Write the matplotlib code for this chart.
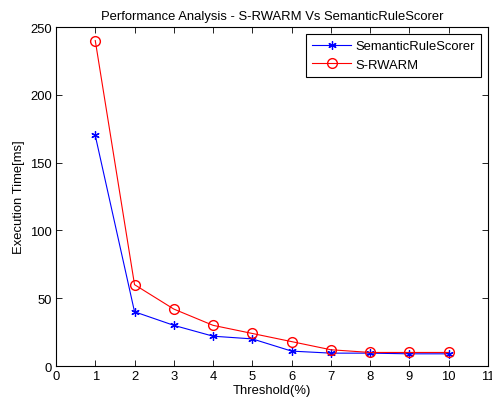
import matplotlib
matplotlib.use("Agg")
import matplotlib.pyplot as plt

thresholds = [1, 2, 3, 4, 5, 6, 7, 8, 9, 10]
semantic_rule_scorer = [170, 40, 30, 22, 20, 11, 9.5, 9.5, 9, 9]
s_rwarm = [240, 60, 42, 30, 24, 18, 12, 10, 10, 10]

plt.rcParams['font.family'] = ['Liberation Sans', 'DejaVu Sans']
plt.rcParams['font.size'] = 9.4

fig = plt.figure(figsize=(4.92, 4.06), dpi=100)
ax = fig.add_axes([0.1138, 0.096, 0.878, 0.835])
ax.plot(thresholds, semantic_rule_scorer, color='blue', marker=(6, 2, 0), markersize=6,
        markeredgewidth=0.9, linewidth=0.8, label='SemanticRuleScorer')
ax.plot(thresholds, s_rwarm, color='red', marker='o', markersize=7, markerfacecolor='none',
        linewidth=0.8, label='S-RWARM')
ax.set_xlim(0, 11)
ax.set_ylim(0, 250)
ax.set_xticks(range(0, 12))
ax.set_yticks(range(0, 251, 50))
ax.tick_params(direction='in', top=True, right=True, length=4, width=0.6, pad=3)
for s in ax.spines.values():
    s.set_linewidth(0.8)
ax.set_title('Performance Analysis - S-RWARM Vs SemanticRuleScorer', fontsize=9.4, pad=6)
ax.set_xlabel('Threshold(%)', labelpad=1)
ax.set_ylabel('Execution Time[ms]', labelpad=4)
leg = ax.legend(loc='upper right', fancybox=False, edgecolor='black', framealpha=1,
                fontsize=9.4, handlelength=3.0, handletextpad=0.3, borderaxespad=0.55,
                borderpad=0.45, labelspacing=0.5)
leg.get_frame().set_linewidth(0.8)
fig.savefig('out.png', dpi=100)
